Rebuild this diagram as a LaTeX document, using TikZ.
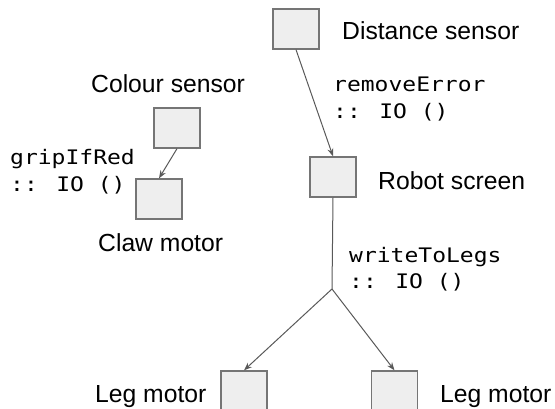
\documentclass[tikz,border=0pt]{standalone}
\usepackage{fontspec}
\setmainfont{Liberation Sans}
\newfontfamily\codefont[FakeStretch=1.15]{DejaVu Sans Mono}
\usetikzlibrary{arrows.meta}
\definecolor{boxfill}{HTML}{EEEEEE}
\definecolor{boxline}{HTML}{757575}
\definecolor{arrowline}{HTML}{595959}
\tikzset{
  blockbox/.style={draw=boxline, fill=boxfill, line width=1.3pt, minimum width=46pt, minimum height=40pt, inner sep=0pt},
  lbl/.style={anchor=base west, inner sep=0pt, font=\fontsize{24.7}{28}\selectfont},
  codelbl/.style={anchor=base west, inner sep=0pt, align=left, font=\codefont\fontsize{20}{27}\selectfont},
  conn/.style={draw=arrowline, line width=1pt},
  arr/.style={conn, -{Stealth[length=8pt,width=6pt]}}
}
\begin{document}
\begin{tikzpicture}[x=1pt,y=-1pt]
\useasboundingbox (0,0) rectangle (555,409);
\clip (0,0) rectangle (555,409);
% boxes
\node[blockbox] (dist) at (296,29) {};
\node[blockbox] (robot) at (333,177) {};
\node[blockbox] (colour) at (177,128) {};
\node[blockbox] (claw) at (159,199) {};
\node[blockbox] (legL) at (244,391) {};
\node[blockbox] (legR) at (394.5,391) {};
% labels
\node[lbl] (tdist) at (342,40) {Distance sensor};
\node[lbl] (trobot) at (378,190) {Robot screen};
\node[lbl] (tcolour) at (91,93) {Colour sensor};
\node[lbl] (tclaw) at (98,252) {Claw motor};
\node[lbl] (tlegL) at (95,402) {Leg motor};
\node[lbl] (tlegR) at (440,402) {Leg motor};
\node[codelbl] (cremove) at (333,119) {removeError\\:: IO ()};
\node[codelbl] (cgrip) at (10,192) {gripIfRed\\:: IO ()};
\node[codelbl] (cwrite) at (349,289) {writeToLegs\\:: IO ()};
% connectors
\coordinate (split) at (332,289);
\draw[arr] (dist.south) -- (robot.north);
\draw[arr] (colour.south) -- (claw.north);
\draw[conn] (robot.south) -- (split);
\draw[arr] (split) -- (legL.north);
\draw[arr] (split) -- (legR.north);
\end{tikzpicture}
\end{document}
